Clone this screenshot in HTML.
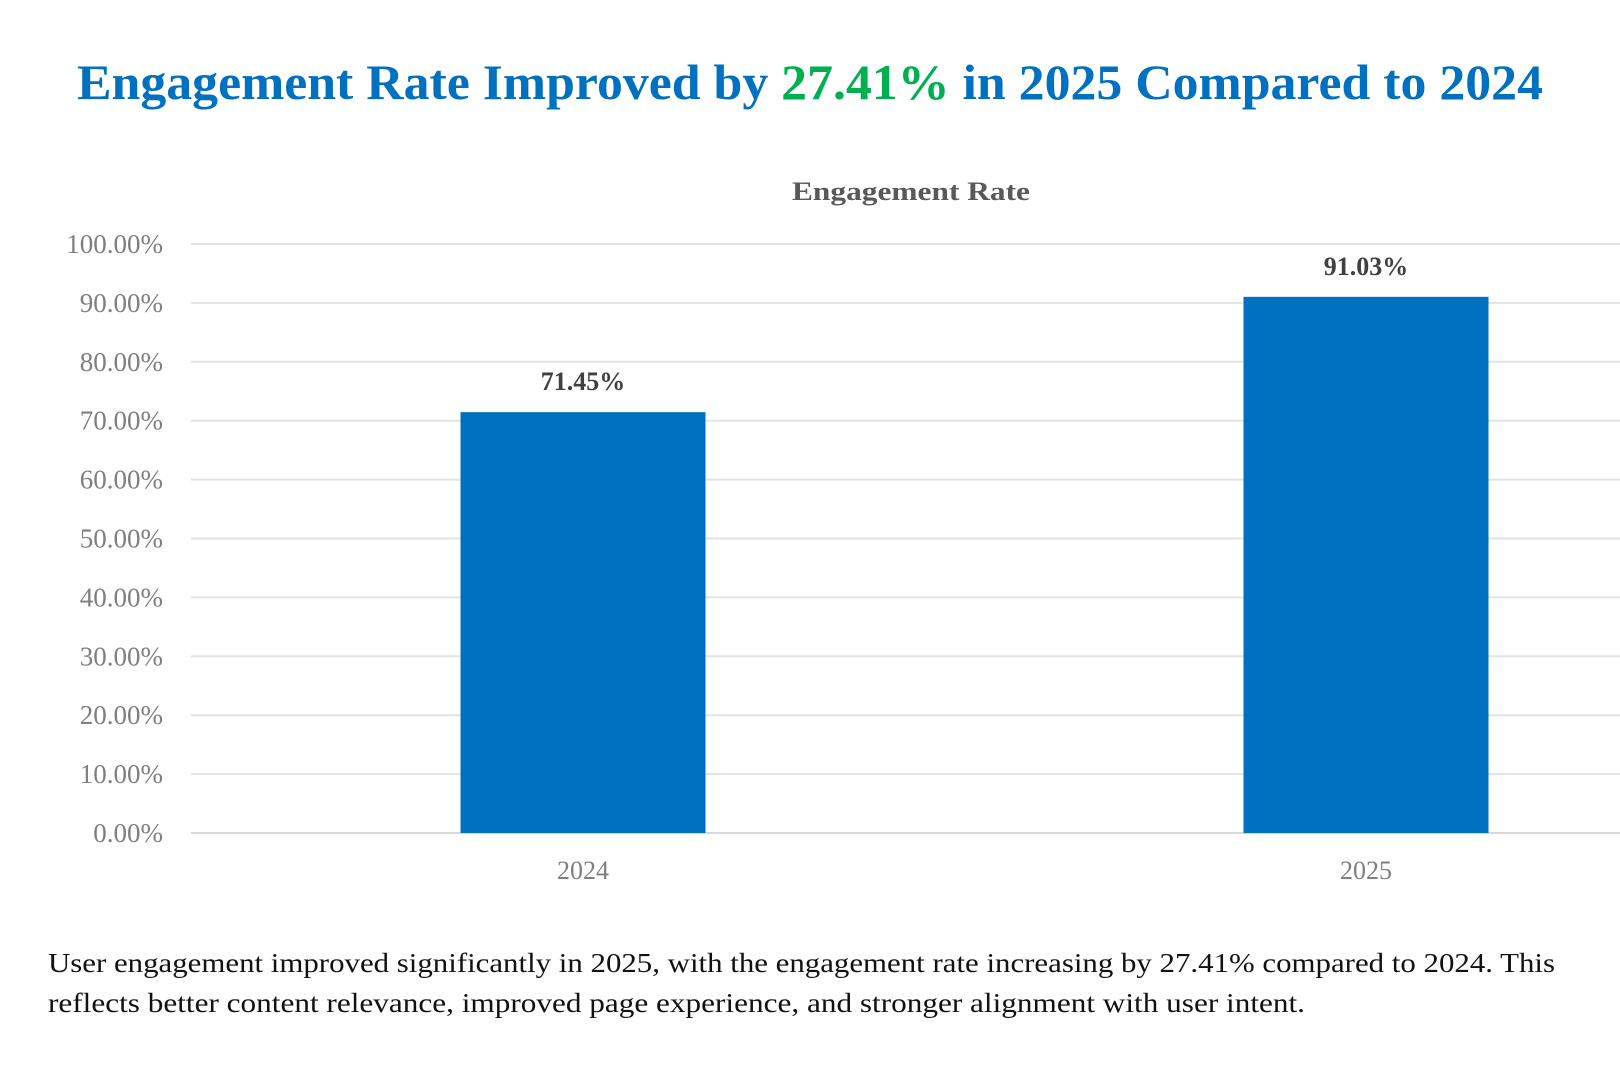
<!DOCTYPE html>
<html><head><meta charset="utf-8"><style>
html,body{margin:0;padding:0;background:#fff;}
svg{display:block;font-family:"Liberation Serif",serif;}
</style></head><body>
<svg id="chart" width="1620" height="1080" viewBox="0 0 1620 1080" xmlns="http://www.w3.org/2000/svg">
<text x="77" y="99" font-size="50" font-weight="bold" fill="#0070C0" textLength="1466" lengthAdjust="spacingAndGlyphs">Engagement Rate Improved by <tspan fill="#00B050">27.41%</tspan> in 2025 Compared to 2024</text>
<text x="911" y="200" font-size="26" font-weight="bold" fill="#595959" text-anchor="middle" textLength="238" lengthAdjust="spacingAndGlyphs">Engagement Rate</text>
<g id="grid"></g>
<g id="bars"></g>
<text x="48" y="972" font-size="27" fill="#111" textLength="1507" lengthAdjust="spacingAndGlyphs">User engagement improved significantly in 2025, with the engagement rate increasing by 27.41% compared to 2024. This</text>
<text x="48" y="1012" font-size="27" fill="#111" textLength="1257" lengthAdjust="spacingAndGlyphs">reflects better content relevance, improved page experience, and stronger alignment with user intent.</text>
</svg>
<script>
const categories = ["2024", "2025"];
const values = [71.45, 91.03];
const valueLabels = ["71.45%", "91.03%"];
const ticks = [0, 10, 20, 30, 40, 50, 60, 70, 80, 90, 100];
const tickLabels = ["0.00%","10.00%","20.00%","30.00%","40.00%","50.00%","60.00%","70.00%","80.00%","90.00%","100.00%"];

const NS = "http://www.w3.org/2000/svg";
const y0 = 833, y100 = 244;
function yScale(v){ return y0 + (y100 - y0) * v / 100; }
function xCenter(i){ return 583 + i * 783; }
const barW = 245;
const grid = document.getElementById('grid');
ticks.forEach((t, i) => {
  const y = yScale(t);
  const l = document.createElementNS(NS, 'line');
  
  
  l.setAttribute('x1', 191); l.setAttribute('x2', 1620);
  l.setAttribute('y1', y); l.setAttribute('y2', y);
  l.setAttribute('stroke', t === 0 ? '#d9d9d9' : '#e3e3e3');
  l.setAttribute('stroke-width', 2);
  grid.appendChild(l);
  const tx = document.createElementNS(NS, 'text');
  
  
  tx.setAttribute('x', 163); tx.setAttribute('y', y + 9);
  tx.setAttribute('text-anchor', 'end');
  tx.setAttribute('font-size', '27');
  tx.setAttribute('fill', '#7f7f7f');
  tx.textContent = tickLabels[i];
  grid.appendChild(tx);
});
const bars = document.getElementById('bars');
categories.forEach((c, i) => {
  const cx = xCenter(i), top = yScale(values[i]);
  const r = document.createElementNS(NS, 'rect');
  
  
  r.setAttribute('x', cx - barW / 2); r.setAttribute('y', top);
  r.setAttribute('width', barW); r.setAttribute('height', y0 - top);
  r.setAttribute('fill', '#0070C0');
  bars.appendChild(r);
  const v = document.createElementNS(NS, 'text');
  
  
  v.setAttribute('x', cx); v.setAttribute('y', top - 22);
  v.setAttribute('text-anchor', 'middle');
  v.setAttribute('font-size', '26'); v.setAttribute('font-weight', 'bold');
  v.setAttribute('fill', '#404040');
  v.textContent = valueLabels[i];
  bars.appendChild(v);
  const x = document.createElementNS(NS, 'text');
  
  
  x.setAttribute('x', cx); x.setAttribute('y', 879);
  x.setAttribute('text-anchor', 'middle');
  x.setAttribute('font-size', '26'); x.setAttribute('fill', '#7f7f7f');
  x.textContent = c;
  bars.appendChild(x);
});
</script>
</body></html>
